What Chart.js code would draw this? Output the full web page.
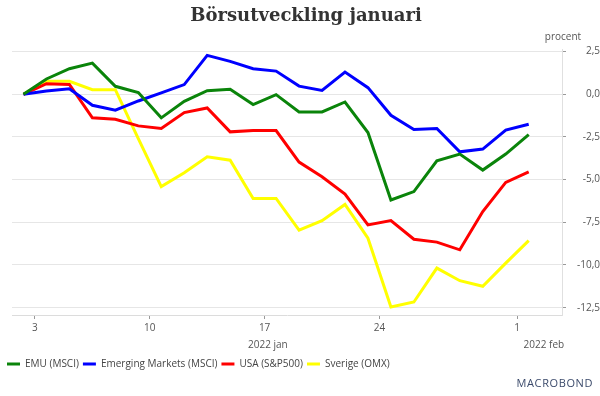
<!DOCTYPE html>
<html><head><meta charset="utf-8">
<script src="https://cdn.jsdelivr.net/npm/chart.js@4.4.1/dist/chart.umd.min.js"></script>
<style>html,body{margin:0;padding:0;background:#fff}#wrap{width:600px;height:396px}</style>
</head><body><div id="wrap"><canvas id="c" width="600" height="396"></canvas></div>
<script>
// Trading days (index on x axis)
const days = ['2021-12-31','2022-01-03','2022-01-04','2022-01-05','2022-01-06','2022-01-07',
  '2022-01-10','2022-01-11','2022-01-12','2022-01-13','2022-01-14',
  '2022-01-17','2022-01-18','2022-01-19','2022-01-20','2022-01-21',
  '2022-01-24','2022-01-25','2022-01-26','2022-01-27','2022-01-28',
  '2022-01-31','2022-02-01'];
const emu     = [0, 0.9, 1.5, 1.83, 0.47, 0.1, -1.38, -0.41, 0.21, 0.29, -0.6, -0.02, -1.03, -1.03, -0.45, -2.24, -6.19, -5.7, -3.9, -3.5, -4.44, -3.5, -2.36];
const em      = [0, 0.19, 0.33, -0.64, -0.93, -0.39, 0.08, 0.57, 2.28, 1.93, 1.5, 1.36, 0.48, 0.23, 1.3, 0.39, -1.23, -2.06, -2.0, -3.37, -3.21, -2.1, -1.75];
const usa     = [0, 0.62, 0.58, -1.38, -1.46, -1.85, -2.0, -1.07, -0.8, -2.2, -2.12, -2.12, -3.97, -4.83, -5.84, -7.65, -7.4, -8.49, -8.66, -9.11, -6.87, -5.16, -4.54];
const sverige = [0, 0.76, 0.76, 0.27, 0.27, -2.6, -5.41, -4.6, -3.66, -3.86, -6.1, -6.1, -7.96, -7.4, -6.45, -8.43, -12.46, -12.17, -10.18, -10.92, -11.25, -9.89, -8.57];
const seriesNames = ['EMU (MSCI)', 'Emerging Markets (MSCI)', 'USA (S&P500)', 'Sverige (OMX)'];
// week ticks sit between the last day of previous week and first day of the week
const weekTickPos = [0.5, 5.5, 10.5, 15.5, 21.5];
const weekTickLabels = ['3', '10', '17', '24', '1'];
const monthTickPos = [10.64, 22.66];
const monthTickLabels = ['2022 jan', '2022 feb'];
const yTicks = [2.5, 0, -2.5, -5, -7.5, -10, -12.5];

const colors = ['#0a840a', '#0000ff', '#ff0000', '#ffff00'];
const toXY = arr => arr.map((v, i) => ({x: i, y: v}));
const TICK_FONT = {family: '"Open Sans", sans-serif', size: 10};

const extras = {
  id: 'extras',
  afterLayout(chart) { chart.legend.left = 3; },
  afterDraw(chart) {
    const ctx = chart.ctx, ca = chart.chartArea;
    ctx.save();
    ctx.fillStyle = '#555';
    ctx.font = '10px "Open Sans", sans-serif';
    ctx.textAlign = 'center';
    ctx.textBaseline = 'middle';
    ctx.fillText('procent', ca.right + 1, 37);
    ctx.fillStyle = '#3b4a6b';
    ctx.font = '11px "Open Sans", sans-serif';
    ctx.textAlign = 'right';
    try { ctx.letterSpacing = '0.6px'; } catch (e) {}
    ctx.fillText('MACROBOND', 593, 384);
    ctx.restore();
  }
};

new Chart(document.getElementById('c'), {
  type: 'line',
  data: {
    datasets: [emu, em, usa, sverige].map((d, i) => ({
      label: seriesNames[i],
      data: toXY(d),
      borderColor: colors[i],
      backgroundColor: colors[i],
      borderWidth: 3,
      pointRadius: 0,
      tension: 0,
      fill: false,
      xAxisID: 'x',
      yAxisID: 'y'
    }))
  },
  options: {
    responsive: false,
    animation: false,
    devicePixelRatio: 1,
    layout: {padding: {left: 12, right: 0, top: 0, bottom: 17}},
    plugins: {
      title: {
        display: true,
        text: 'Börsutveckling januari',
        color: '#333',
        font: {family: '"DejaVu Serif", serif', size: 18, weight: 'bold'},
        padding: {top: 6, bottom: 22}
      },
      legend: {
        display: true,
        position: 'bottom',
        align: 'start',
        labels: {
          boxWidth: 13, boxHeight: 3, padding: 4,
          color: '#444',
          font: {family: '"Open Sans", sans-serif', size: 10},
          generateLabels: chart => Chart.defaults.plugins.legend.labels.generateLabels(chart)
            .map(it => Object.assign(it, {lineWidth: 0}))
        }
      },
      tooltip: {enabled: false}
    },
    scales: {
      x: {
        type: 'linear', position: 'bottom',
        min: -0.5, max: 23.45,
        afterBuildTicks: s => { s.ticks = weekTickPos.map(v => ({value: v})); },
        afterFit: s => { s.height = 22; },
        ticks: {
          autoSkip: false, maxRotation: 0, padding: 3,
          color: '#555', font: TICK_FONT,
          callback: (v, i) => weekTickLabels[i]
        },
        grid: {drawOnChartArea: false, tickLength: 4, tickColor: '#999'},
        border: {color: '#dcdcdc'}
      },
      x2: {
        type: 'linear', position: 'bottom',
        min: -0.5, max: 23.45,
        afterBuildTicks: s => { s.ticks = monthTickPos.map(v => ({value: v})); },
        afterFit: s => { s.height = 18; },
        ticks: {
          autoSkip: false, maxRotation: 0, padding: 2,
          color: '#555', font: TICK_FONT,
          callback: (v, i) => monthTickLabels[i]
        },
        grid: {display: false, drawTicks: false},
        border: {display: false}
      },
      y: {
        position: 'right',
        min: -12.93, max: 2.62,
        afterBuildTicks: s => { s.ticks = yTicks.map(v => ({value: v})); },
        afterFit: s => { s.width = 38; },
        ticks: {
          crossAlign: 'far', padding: 0,
          color: '#555', font: TICK_FONT,
          callback: v => v.toFixed(1).replace('.', ',')
        },
        grid: {color: '#e6e6e6', tickLength: 4, tickColor: '#999'},
        border: {color: '#e0e0e0'}
      }
    }
  },
  plugins: [extras]
});
</script>
</body></html>
